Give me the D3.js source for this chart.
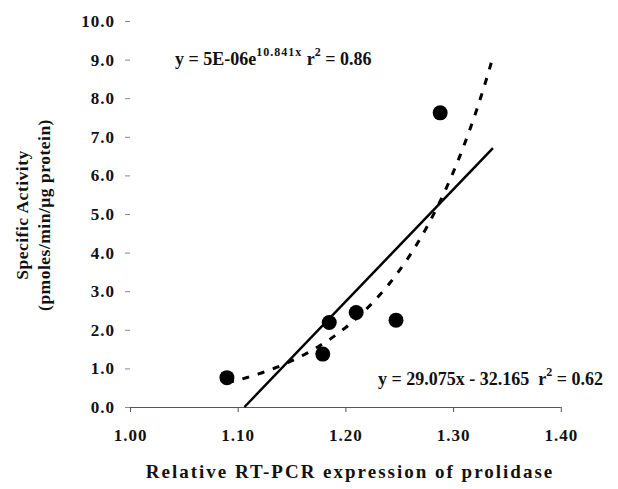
<!DOCTYPE html>
<html>
<head>
<meta charset="utf-8">
<script src="https://cdn.jsdelivr.net/npm/d3@7"></script>
<style>
    body { margin: 0; background: #fff; }
    text { font-family: "Liberation Serif", "Times New Roman", serif; font-weight: bold; fill: #111; }
</style>
</head>
<body>
<script>
(function(){

    //data
    var expression = [1.090, 1.179, 1.185, 1.210, 1.247, 1.288];
    var activity = [0.76, 1.37, 2.19, 2.45, 2.25, 7.62];

    //tick values
    var xTicks = [1.00, 1.10, 1.20, 1.30, 1.40];
    var yTicks = [0, 1, 2, 3, 4, 5, 6, 7, 8, 9, 10];

    //trendline coefficients (linear: slope, intercept / exponential: a, b)
    var linearFit = [29.075, -32.165];
    var expFit = [4.6e-6, 10.841];
    var trendRange = [1.090, 1.337];

    var width = 618,
        height = 489;

    var svg = d3.select("body")
        .append("svg")
        .attr("width", width)
        .attr("height", height);

    //scales
    var x = d3.scaleLinear().domain([1.0, 1.4]).range([130, 560.8]);
    var y = d3.scaleLinear().domain([0, 10]).range([407, 21]);

    //x axis
    var xAxis = svg.append("g")
        .attr("class", "xaxis")
        .attr("transform", "translate(0," + y(0) + ")")
        .call(d3.axisBottom(x).tickValues(xTicks).tickSize(5).tickSizeOuter(0).tickFormat(d3.format(".2f")));
    xAxis.select(".domain").attr("stroke", "#555").attr("d", "M125,0.5H" + x(1.4));
    xAxis.selectAll(".tick line").attr("stroke", "#555");
    xAxis.selectAll(".tick text")
        .attr("y", 22)
        .style("font-size", "17px")
        .style("letter-spacing", "1px")
        .style("font-family", "Liberation Serif");

    //y axis (no visible spine, only small ticks)
    var yAxis = svg.append("g")
        .attr("class", "yaxis")
        .attr("transform", "translate(" + x(1.0) + ",0)")
        .call(d3.axisLeft(y).tickValues(yTicks).tickSize(5).tickFormat(d3.format(".1f")));
    yAxis.select(".domain").remove();
    yAxis.selectAll(".tick line").attr("stroke", "#888");
    yAxis.selectAll(".tick text")
        .attr("x", -15)
        .style("font-size", "17px")
        .style("letter-spacing", "1px")
        .style("font-family", "Liberation Serif");

    //trendline samples
    var xs = d3.range(trendRange[0], trendRange[1] + 0.0001, 0.002);

    //linear trendline, clipped at y = 0
    var x0 = -linearFit[1] / linearFit[0];
    var linPts = [x0, trendRange[1]].map(function(v) {
        return [v, linearFit[0] * v + linearFit[1]];
    });
    svg.append("path")
        .datum(linPts)
        .attr("fill", "none")
        .attr("stroke", "#000")
        .attr("stroke-width", 2.5)
        .attr("d", d3.line().x(function(d) { return x(d[0]); }).y(function(d) { return y(d[1]); }));

    //exponential trendline, dashed
    var expPts = xs.map(function(v) {
        return [v, expFit[0] * Math.exp(expFit[1] * v)];
    });
    svg.append("path")
        .datum(expPts)
        .attr("fill", "none")
        .attr("stroke", "#000")
        .attr("stroke-width", 3)
        .attr("stroke-dasharray", "7,9")
        .attr("d", d3.line().x(function(d) { return x(d[0]); }).y(function(d) { return y(d[1]); }));

    //data points
    svg.selectAll(".dot")
        .data(expression)
        .enter()
        .append("circle")
        .attr("class", "dot")
        .attr("cx", function(d) { return x(d); })
        .attr("cy", function(d, i) { return y(activity[i]); })
        .attr("r", 7.5)
        .attr("fill", "#000");

    //equation labels
    var eq1 = svg.append("text")
        .attr("x", 175)
        .attr("y", 65)
        .style("font-size", "18px");
    eq1.append("tspan").text("y = 5E-06e");
    eq1.append("tspan").attr("dy", -9).style("font-size", "12px").style("letter-spacing", "1px").text("10.841x");
    eq1.append("tspan").attr("dy", 9).text(" r");
    eq1.append("tspan").attr("dy", -9).style("font-size", "12px").text("2");
    eq1.append("tspan").attr("dy", 9).text(" = 0.86");

    var eq2 = svg.append("text")
        .attr("x", 378)
        .attr("y", 385)
        .style("font-size", "18px");
    eq2.append("tspan").text("y = 29.075x - 32.165 \u00a0r");
    eq2.append("tspan").attr("dy", -9).style("font-size", "12px").text("2");
    eq2.append("tspan").attr("dy", 9).text(" = 0.62");

    //axis titles
    svg.append("text")
        .attr("x", 350)
        .attr("y", 478)
        .attr("text-anchor", "middle")
        .style("font-size", "19px")
        .style("letter-spacing", "2px")
        .text("Relative RT-PCR expression of prolidase");

    var yTitle = svg.append("text")
        .attr("transform", "translate(0,215) rotate(-90)")
        .attr("text-anchor", "middle")
        .style("font-size", "17.5px")
        .style("letter-spacing", "0.5px");
    yTitle.append("tspan").attr("x", 0).attr("y", 28).text("Specific Activity");
    yTitle.append("tspan").attr("x", 0).attr("y", 50).text("(pmoles/min/\u00b5g protein)");

})();
</script>
</body>
</html>
